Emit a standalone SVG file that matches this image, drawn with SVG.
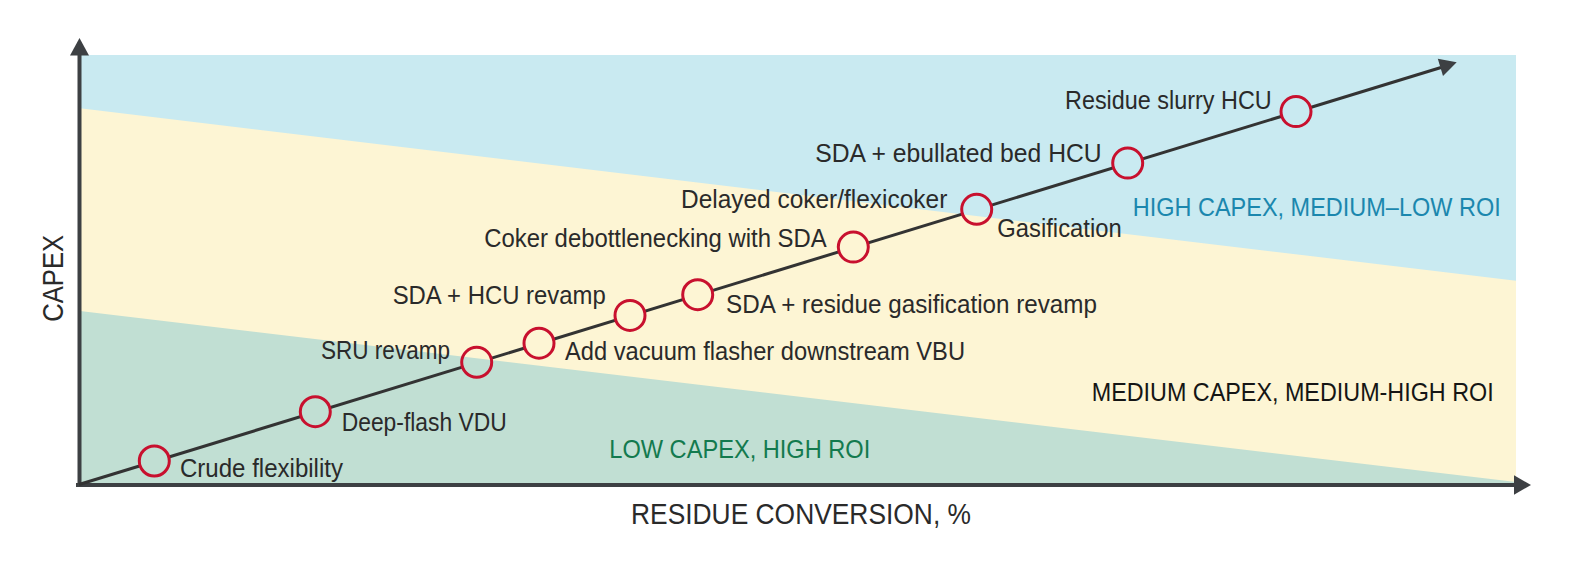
<svg xmlns="http://www.w3.org/2000/svg" width="1582" height="574" viewBox="0 0 1582 574">
<defs>
<style>
.lbl{font-family:"Liberation Sans",Arial,sans-serif;font-size:25px;fill:#2a2a2a}
.axt{font-family:"Liberation Sans",Arial,sans-serif;font-size:29px;fill:#2a2a2a}
.reg{font-family:"Liberation Sans",Arial,sans-serif;font-size:25px}
.pt{fill:none;stroke:#c8102e;stroke-width:3}
.ax{stroke:#3d4043;stroke-width:4;fill:none}
.axh{fill:#3d4043}
</style>
<mask id="lineMask" maskUnits="userSpaceOnUse" x="0" y="0" width="1582" height="574">
<rect x="0" y="0" width="1582" height="574" fill="#fff"/>
<circle cx="154.3" cy="461.0" r="14" fill="#000"/>
<circle cx="315.3" cy="411.7" r="14" fill="#000"/>
<circle cx="476.7" cy="362.3" r="14" fill="#000"/>
<circle cx="539" cy="343.2" r="14" fill="#000"/>
<circle cx="630" cy="315.4" r="14" fill="#000"/>
<circle cx="697.7" cy="294.7" r="14" fill="#000"/>
<circle cx="853.3" cy="247.1" r="14" fill="#000"/>
<circle cx="976.7" cy="209.3" r="14" fill="#000"/>
<circle cx="1127.7" cy="163.1" r="14" fill="#000"/>
<circle cx="1296" cy="111.6" r="14" fill="#000"/>
</mask>
</defs>
<rect width="1582" height="574" fill="#fff"/>
<g id="bands">
<rect x="80" y="55" width="1436" height="430" fill="#c9eaf1"/>
<polygon points="80,108.3 1516,280.7 1516,485 80,485" fill="#fdf5d4"/>
<polygon points="80,311 1516,482 1516,485 80,485" fill="#c1dfd3"/>
</g>
<g id="axes">
<line class="ax" x1="79.5" y1="487" x2="79.5" y2="54"/>
<polygon class="axh" points="70,55.5 79.5,38 89,55.5"/>
<line class="ax" x1="76" y1="485" x2="1515" y2="485"/>
<polygon class="axh" points="1514,475.3 1531,485 1514,494.7"/>
<text class="axt" transform="translate(63.3,278.3) rotate(-90)" text-anchor="middle" textLength="87" lengthAdjust="spacingAndGlyphs">CAPEX</text>
<text class="axt" x="631" y="524" textLength="340" lengthAdjust="spacingAndGlyphs">RESIDUE CONVERSION, %</text>
</g>
<g id="connectors">
<line x1="79" y1="484.5" x2="1441" y2="67.5" stroke="#333" stroke-width="3" mask="url(#lineMask)"/>
<polygon fill="#3d4043" points="1437.8,58.7 1456.7,62.3 1443,75.9"/>
</g>
<g id="regions">
<text class="reg" x="1132.7" y="215.7" fill="#1b87ae" textLength="368" lengthAdjust="spacingAndGlyphs">HIGH CAPEX, MEDIUM–LOW ROI</text>
<text class="reg" x="1091.7" y="400.7" fill="#151515" textLength="402" lengthAdjust="spacingAndGlyphs">MEDIUM CAPEX, MEDIUM-HIGH ROI</text>
<text class="reg" x="609.3" y="458.3" fill="#137a4e" textLength="261" lengthAdjust="spacingAndGlyphs">LOW CAPEX, HIGH ROI</text>
</g>
<g id="n1"><circle class="pt" cx="154.3" cy="461.0" r="15"/><text class="lbl" x="180" y="476.7" textLength="163" lengthAdjust="spacingAndGlyphs">Crude flexibility</text></g>
<g id="n2"><circle class="pt" cx="315.3" cy="411.7" r="15"/><text class="lbl" x="341.7" y="431" textLength="165" lengthAdjust="spacingAndGlyphs">Deep-flash VDU</text></g>
<g id="n3"><circle class="pt" cx="476.7" cy="362.3" r="15"/><text class="lbl" x="321" y="358.7" textLength="129" lengthAdjust="spacingAndGlyphs">SRU revamp</text></g>
<g id="n4"><circle class="pt" cx="539" cy="343.2" r="15"/><text class="lbl" x="565" y="360" textLength="400" lengthAdjust="spacingAndGlyphs">Add vacuum flasher downstream VBU</text></g>
<g id="n5"><circle class="pt" cx="630" cy="315.4" r="15"/><text class="lbl" x="392.7" y="304.3" textLength="213" lengthAdjust="spacingAndGlyphs">SDA + HCU revamp</text></g>
<g id="n6"><circle class="pt" cx="697.7" cy="294.7" r="15"/><text class="lbl" x="726" y="313.3" textLength="371" lengthAdjust="spacingAndGlyphs">SDA + residue gasification revamp</text></g>
<g id="n7"><circle class="pt" cx="853.3" cy="247.1" r="15"/><text class="lbl" x="484.3" y="246.7" textLength="342.4" lengthAdjust="spacingAndGlyphs">Coker debottlenecking with SDA</text></g>
<g id="n8"><circle class="pt" cx="976.7" cy="209.3" r="15"/><text class="lbl" x="681" y="208.3" textLength="266.3" lengthAdjust="spacingAndGlyphs">Delayed coker/flexicoker</text><text class="lbl" x="997.3" y="236.5" textLength="124.4" lengthAdjust="spacingAndGlyphs">Gasification</text></g>
<g id="n9"><circle class="pt" cx="1127.7" cy="163.1" r="15"/><text class="lbl" x="815.2" y="162.3" textLength="286.5" lengthAdjust="spacingAndGlyphs">SDA + ebullated bed HCU</text></g>
<g id="n10"><circle class="pt" cx="1296" cy="111.6" r="15"/><text class="lbl" x="1065" y="109" textLength="206.7" lengthAdjust="spacingAndGlyphs">Residue slurry HCU</text></g>
</svg>
